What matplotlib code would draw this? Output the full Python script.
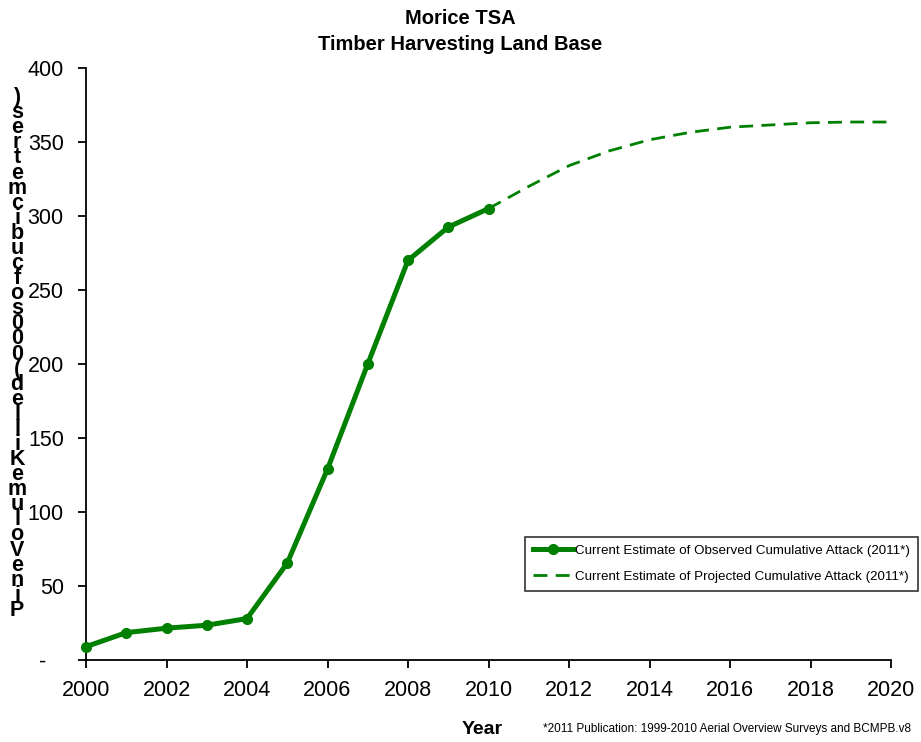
import matplotlib
matplotlib.use("Agg")
import matplotlib.pyplot as plt
from matplotlib.ticker import FixedLocator

plt.rcParams['font.family'] = ['Liberation Sans', 'DejaVu Sans']

obs_years = [2000, 2001, 2002, 2003, 2004, 2005, 2006, 2007, 2008, 2009, 2010]
obs_vals = [9, 18.5, 21.5, 23.5, 28, 65.5, 129, 200, 270, 292.5, 305]
proj_years = [2010, 2011, 2012, 2013, 2014, 2015, 2016, 2017, 2018, 2019, 2020]
proj_vals = [305, 320, 334, 344, 351.5, 356.5, 360, 361.5, 363, 363.5, 363.5]
y_ticks = [0, 50, 100, 150, 200, 250, 300, 350, 400]
y_tick_labels = ['-   ', '50', '100', '150', '200', '250', '300', '350', '400']
x_ticks = list(range(2000, 2021, 2))
title = "Morice TSA\nTimber Harvesting Land Base"
ylabel = "Pine Volume Killed (000s of cubic metres)"
legend_labels = ["Current Estimate of Observed Cumulative Attack (2011*)",
                 "Current Estimate of Projected Cumulative Attack (2011*)"]
footnote = "*2011 Publication: 1999-2010 Aerial Overview Surveys and BCMPB.v8"

green = '#008000'
fig = plt.figure(figsize=(9.21, 7.42), dpi=100)
ax = fig.add_axes([86/921, 1-660/742, (891-86)/921, (660-68)/742])

l1, = ax.plot(obs_years, obs_vals, color=green, lw=3.6, marker='o', ms=7, zorder=3,
              clip_on=False)
l2, = ax.plot(proj_years, proj_vals, color=green, lw=2, ls=(0, (5, 3)), zorder=2)

ax.set_xlim(2000, 2020)
ax.set_ylim(0, 400)
ax.set_xticks(x_ticks)
ax.set_yticks(y_ticks)
ax.set_yticklabels(y_tick_labels)
ax.yaxis.set_minor_locator(FixedLocator([]))
for s in ['top', 'right']:
    ax.spines[s].set_visible(False)
for s in ['left', 'bottom']:
    ax.spines[s].set_linewidth(1.3)
ax.tick_params(axis='both', direction='out', length=6, width=1.3, labelsize=15.5)
ax.tick_params(axis='x', pad=8.5)
ax.tick_params(axis='y', pad=10)

fig.text(0.5, 0.988, title, ha='center', va='top', fontsize=14.5, fontweight='bold',
         linespacing=1.5)

# stacked vertical y label (characters reversed, bottom to top)
chars = [c for c in ylabel if c != ' '][::-1]
fig.text(17/921, 1-354/742, "\n".join(chars), ha='center', va='center', fontsize=15.5,
         fontweight='bold', linespacing=0.63)

fig.text(482/921, 1-729/742, "Year", ha='center', va='center', fontsize=14, fontweight='bold')
fig.text(543/921, 1-729/742, footnote, ha='left', va='center', fontsize=8.5)

leg = fig.legend([l1, l2], legend_labels, loc='upper left',
                 bbox_to_anchor=(518/921, 1-530/742), fontsize=9.6, frameon=True,
                 fancybox=False, edgecolor='black', borderpad=0.6, handlelength=3.0,
                 labelspacing=1.0, handletextpad=0.2)
leg.get_frame().set_linewidth(1.2)

fig.savefig("out.png", dpi=100)
